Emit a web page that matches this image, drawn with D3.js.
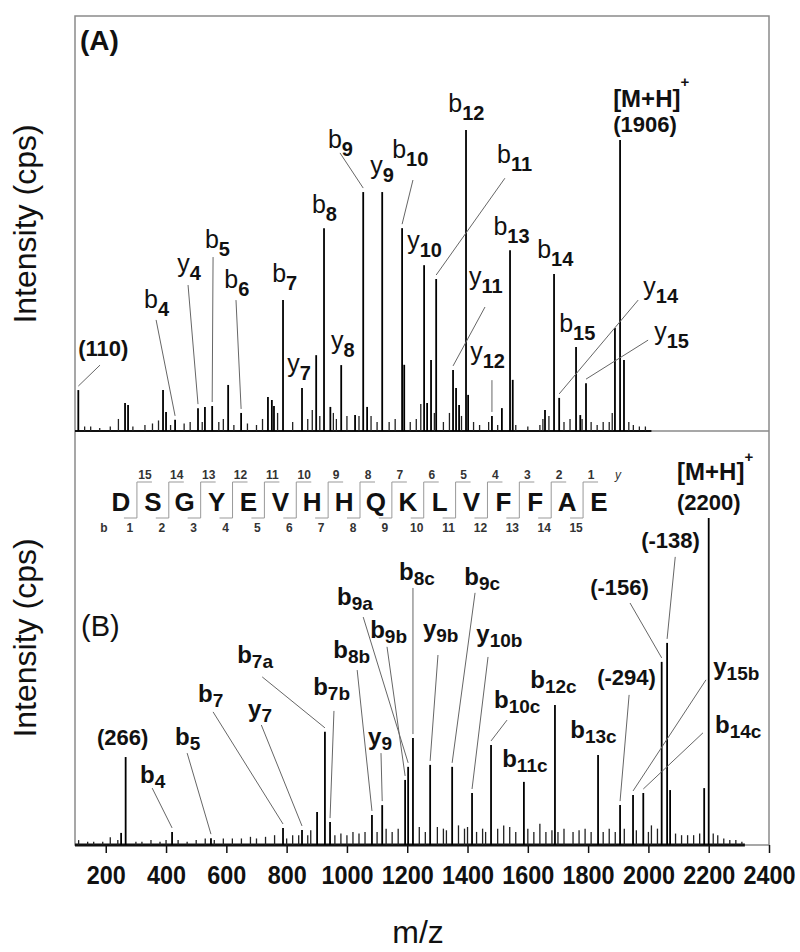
<!DOCTYPE html>
<html>
<head>
<meta charset="utf-8">
<script src="https://cdn.jsdelivr.net/npm/d3@7/dist/d3.min.js"></script>
<style>
  body { margin: 0; background: #fff; }
  text { font-family: "Liberation Sans", Arial, sans-serif; fill: #111; }
</style>
</head>
<body>
<div id="chart"></div>
<script>
// ---------- data ----------
// panel A : main peaks, m/z and relative intensity (% of b12)
var mzA  = [109, 264, 274, 390, 400, 430, 506, 529, 553, 606, 649, 738, 751, 758, 788, 851, 898, 924, 945, 981, 1027, 1054, 1067, 1117, 1183, 1190, 1256, 1266, 1279, 1296, 1352, 1362, 1372, 1395, 1402, 1481, 1514, 1541, 1550, 1657, 1687, 1704, 1760, 1774, 1793, 1889, 1906, 1919];
var intA = [13.6, 9.3, 8.6, 13.6, 6.3, 3.7, 7.6, 8.0, 8.3, 15.3, 6.0, 11.3, 10.3, 8.3, 43.5, 14.3, 25.2, 67.4, 8.0, 21.9, 5.3, 79.4, 8.0, 79.4, 67.4, 22, 55.1, 9.3, 23.6, 50.5, 20.3, 14.3, 8.6, 100, 12, 5, 7.6, 60.1, 17, 7, 52.2, 11, 27.9, 5.3, 15.9, 34.2, 96.7, 23.6];
// panel A : small background peaks
var noiseMzA  = [130, 150, 180, 215, 242, 290, 330, 355, 375, 415, 460, 480, 520, 575, 590, 625, 670, 700, 720, 770, 820, 870, 885, 910, 955, 965, 1000, 1040, 1080, 1100, 1140, 1160, 1210, 1230, 1245, 1290, 1320, 1340, 1380, 1420, 1440, 1470, 1500, 1560, 1600, 1640, 1650, 1670, 1720, 1740, 1780, 1810, 1830, 1850, 1870, 1880, 1935, 1950, 1970, 1990];
var noiseIntA = [1.5, 1.5, 1, 1.5, 4, 1.5, 2, 2.5, 3.5, 2, 2.5, 3, 3, 3, 4, 2, 2.5, 2, 4, 6, 3, 4, 7, 5, 6, 4, 5, 5, 5, 3, 3, 4, 3, 4, 9, 6, 3, 6, 5, 3, 2, 3, 2, 2, 1.5, 2, 4, 5, 3, 4, 4, 3, 2, 3, 3, 6, 3, 2, 1.5, 1.5];

// panel B : main peaks, m/z and relative intensity (% of 2200)
var mzB  = [251, 266, 420, 549, 788, 851, 901, 927, 944, 1083, 1117, 1193, 1203, 1219, 1276, 1349, 1415, 1478, 1587, 1690, 1833, 1906, 1949, 1983, 2044, 2062, 2072, 2185, 2200];
var intB = [3.7, 26.9, 4.0, 2.1, 5.2, 4.6, 10.1, 34.6, 7.0, 9.2, 12.2, 19.9, 23.9, 32.7, 24.5, 23.9, 15.9, 30.6, 19.3, 42.8, 27.5, 12.2, 15.3, 15.9, 56.0, 61.8, 16.8, 17.4, 100];
var noiseMzB  = [110, 140, 160, 190, 215, 240, 300, 320, 350, 380, 400, 440, 470, 500, 530, 560, 590, 620, 650, 680, 700, 730, 760, 800, 820, 840, 870, 880, 960, 980, 1000, 1020, 1040, 1060, 1100, 1130, 1150, 1170, 1240, 1260, 1300, 1320, 1330, 1370, 1390, 1400, 1430, 1450, 1460, 1500, 1520, 1540, 1560, 1600, 1620, 1640, 1660, 1680, 1700, 1720, 1750, 1770, 1790, 1810, 1850, 1870, 1890, 1920, 1960, 2000, 2010, 2030, 2090, 2110, 2130, 2150, 2170, 2215, 2230, 2250, 2270, 2290, 2310];
var noiseIntB = [1.5, 1, 1, 1, 2.4, 1.5, 1, 1, 1.5, 1, 1.5, 1.5, 1, 1.5, 2, 1.5, 2, 2, 2, 2.5, 2, 2.5, 3, 2, 3, 3, 3, 4.5, 3, 3.5, 3, 4, 3.5, 4, 4, 5, 4, 5, 5.5, 4, 5.5, 5, 4.5, 6, 5, 5.5, 4, 5, 4, 5, 6, 5.5, 4, 5, 4, 6.5, 4, 4.5, 4, 5, 4, 4.5, 5, 4, 4, 5, 4, 5, 4.5, 4, 6, 5, 3.5, 3, 3, 3, 3.5, 3.5, 3, 2, 1.5, 1.5, 1];

// peak annotations: [ion, subscript, peak m/z]
var ionsA = [
  ["(110)", "", 109], ["b", "4", 430], ["y", "4", 506], ["b", "5", 553], ["b", "6", 649],
  ["b", "7", 788], ["y", "7", 851], ["b", "8", 924], ["y", "8", 981], ["b", "9", 1054],
  ["y", "9", 1117], ["b", "10", 1183], ["y", "10", 1256], ["b", "11", 1296], ["b", "12", 1395],
  ["y", "11", 1352], ["y", "12", 1481], ["b", "13", 1541], ["b", "14", 1687], ["b", "15", 1760],
  ["y", "14", 1704], ["y", "15", 1793]
];
var ionsB = [
  ["(266)", "", 266], ["b", "4", 420], ["b", "5", 549], ["b", "7", 788], ["y", "7", 851],
  ["b", "7a", 927], ["b", "7b", 944], ["b", "8b", 1083], ["y", "9", 1117], ["b", "9a", 1203],
  ["b", "9b", 1193], ["b", "8c", 1219], ["y", "9b", 1276], ["b", "9c", 1349], ["y", "10b", 1415],
  ["b", "10c", 1478], ["b", "11c", 1587], ["b", "12c", 1690], ["b", "13c", 1833],
  ["(-294)", "", 1906], ["(-156)", "", 2044], ["(-138)", "", 2062], ["y", "15b", 1949], ["b", "14c", 1983]
];
var precursorA = 1906, precursorB = 2200;

// label anchors in data units: [label m/z, label intensity, leader start m/z, leader start intensity]
var placeA = [
  [108.5, 24.9, 181, 21.9], [327, 40.9, 367, 36.9], [437, 52.8, 473, 48.5], [529, 60.8, 556, 57.8], [593, 47.5, 632, 43.5],
  [752, 49.5], [802, 19.6], [884, 72.4], [947, 27.2], [937, 94, 977, 92.4],
  [1077, 85.4], [1150, 90.7, 1219, 83.4], [1200, 60.5], [1498, 89, 1524, 84], [1336, 106],
  [1405, 48.5, 1458, 41.2], [1409, 23.6, 1481, 16.9], [1486, 65.1], [1631, 57.5], [1704, 32.9],
  [1983, 45.2, 1966, 43.5], [2019, 30.2, 1999, 30.2]
];
var placeB = [
  [171, 30.6], [314, 19.0, 354, 17.4], [430, 30.6, 470, 28.1], [506, 43.7, 556, 40.7], [672, 39.1, 716, 36.7],
  [636, 55.7, 719, 51.4], [888, 45.9, 957, 41], [955, 57.2, 1034, 53.5], [1070, 30.6, 1113, 28.1], [967, 73.4, 1054, 69.7],
  [1077, 63.3, 1133, 60.6], [1173, 81.0, 1219, 78.6], [1252, 63.6, 1302, 58.1], [1389, 79.5, 1425, 77.1], [1429, 62.1, 1468, 57.5],
  [1488, 41.9, 1531, 38.2], [1515, 23.9], [1608, 48.0], [1741, 32.7],
  [1830, 48.9, 1936, 45.9], [1807, 76.5, 1939, 74], [1976, 90.8, 2089, 88.1], [2215, 52.0, 2191, 50.5], [2221, 34.3, 2181, 34.3]
];

var sequence = "DSGYEVHHQKLVFFAE".split("");
var ticks = [200, 400, 600, 800, 1000, 1200, 1400, 1600, 1800, 2000, 2200, 2400];

// ---------- layout ----------
var width = 800, height = 952;
var plotL = 75, plotR = 769, plotT = 16, plotM = 431, plotB = 845;

var x = d3.scaleLinear().domain([98, 2400]).range([plotL, plotR]);
var yA = d3.scaleLinear().domain([0, 137.9]).range([plotM, plotT]);
var yB = d3.scaleLinear().domain([0, 126.6]).range([plotB, plotM]);

var svg = d3.select("#chart").append("svg")
    .attr("width", width)
    .attr("height", height);

// frame
svg.append("rect")
    .attr("x", plotL).attr("y", plotT)
    .attr("width", plotR - plotL).attr("height", plotB - plotT)
    .attr("fill", "none").attr("stroke", "#8a8a8a").attr("stroke-width", 1.5);
svg.append("line")
    .attr("x1", plotL).attr("x2", plotR).attr("y1", plotM).attr("y2", plotM)
    .attr("stroke", "#8a8a8a").attr("stroke-width", 1.5);

function spectrum(mz, it, nmz, nit, y, end, base) {
    var g = svg.append("g");
    g.append("line")
        .attr("x1", x(98)).attr("x2", x(end))
        .attr("y1", y(0)).attr("y2", y(0))
        .attr("stroke", "#111").attr("stroke-width", base);
    g.selectAll("line.n")
        .data(d3.zip(nmz, nit))
        .join("line")
        .attr("class", "n")
        .attr("x1", d => x(d[0])).attr("x2", d => x(d[0]))
        .attr("y1", y(0)).attr("y2", d => y(d[1]))
        .attr("stroke", "#222").attr("stroke-width", 1.3);
    g.selectAll("line.p")
        .data(d3.zip(mz, it))
        .join("line")
        .attr("class", "p")
        .attr("x1", d => x(d[0])).attr("x2", d => x(d[0]))
        .attr("y1", y(0)).attr("y2", d => y(d[1]))
        .attr("stroke", "#000").attr("stroke-width", 1.8);
}
spectrum(mzA, intA, noiseMzA, noiseIntA, yA, 2010, 2.2);
spectrum(mzB, intB, noiseMzB, noiseIntB, yB, 2320, 3);

function labels(ions, place, mz, it, y, opt) {
    var g = svg.append("g");
    var rows = ions.map((d, i) => ({ ion: d, p: place[i], peak: it[mz.indexOf(d[2])] }));

    g.selectAll("line")
        .data(rows.filter(d => d.p.length > 2))
        .join("line")
        .attr("x1", d => x(d.p[2])).attr("y1", d => y(d.p[3]))
        .attr("x2", d => x(d.ion[2])).attr("y2", d => y(d.peak) - 4)
        .attr("stroke", "#666").attr("stroke-width", 1);

    var t = g.selectAll("text")
        .data(rows)
        .join("text")
        .attr("x", d => x(d.p[0])).attr("y", d => y(d.p[1]))
        .attr("font-weight", d => d.ion[1] ? opt.weight : "bold");
    t.append("tspan")
        .attr("font-size", d => d.ion[1] ? opt.size : opt.paren)
        .text(d => d.ion[0]);
    t.filter(d => d.ion[1]).append("tspan")
        .attr("font-size", opt.sub)
        .attr("font-weight", "bold")
        .attr("dy", opt.shift)
        .text(d => d.ion[1]);
}
labels(ionsA, placeA, mzA, intA, yA, { size: 25, sub: 20, shift: 8, paren: 22, weight: "normal" });
labels(ionsB, placeB, mzB, intB, yB, { size: 24, sub: 19, shift: 5, paren: 22, weight: "bold" });

// precursor labels
function precursor(mzv, lx, ly, ly2, y, sup) {
    var t = svg.append("text")
        .attr("x", x(lx)).attr("y", y(ly))
        .attr("font-weight", "bold").attr("font-size", 24);
    t.append("tspan").text("[M+H]");
    t.append("tspan").attr("font-size", 15).attr("dy", sup).text("+");
    svg.append("text")
        .attr("x", x(lx)).attr("y", y(ly2))
        .attr("font-weight", "bold").attr("font-size", 22)
        .text("(" + mzv + ")");
}
precursor(precursorA, 1883, 107.6, 99.3, yA, -20);
precursor(precursorB, 2095, 111.6, 102.4, yB, -18);

// panel tags
svg.append("text").attr("x", 80).attr("y", 50)
    .attr("font-size", 28).attr("font-weight", "bold").text("(A)");
svg.append("text").attr("x", 81).attr("y", 636)
    .attr("font-size", 29).text("(B)");

// peptide sequence with fragment brackets
var seqX = d3.scaleLinear().domain([0, sequence.length - 1]).range([121, 599]);
var seq = svg.append("g");
seq.selectAll("text.aa")
    .data(sequence)
    .join("text")
    .attr("class", "aa")
    .attr("x", (d, i) => seqX(i)).attr("y", 511)
    .attr("text-anchor", "middle")
    .attr("font-size", 26).attr("font-weight", "bold")
    .text(d => d);
var cuts = d3.range(sequence.length - 1);
seq.selectAll("path")
    .data(cuts)
    .join("path")
    .attr("d", i => {
        var c = (seqX(i) + seqX(i + 1)) / 2;
        return "M" + (c - 13) + ",518H" + c + "V482H" + (c + 15);
    })
    .attr("fill", "none").attr("stroke", "#999").attr("stroke-width", 1);
seq.selectAll("text.yn")
    .data(cuts)
    .join("text")
    .attr("class", "yn")
    .attr("x", i => (seqX(i) + seqX(i + 1)) / 2 + 8).attr("y", 479)
    .attr("text-anchor", "middle")
    .attr("font-family", "Liberation Serif, serif").attr("font-weight", "bold").attr("font-size", 12)
    .style("fill", "#333")
    .text(i => sequence.length - 1 - i);
seq.selectAll("text.bn")
    .data(cuts)
    .join("text")
    .attr("class", "bn")
    .attr("x", i => (seqX(i) + seqX(i + 1)) / 2 - 7).attr("y", 532)
    .attr("text-anchor", "middle")
    .attr("font-family", "Liberation Serif, serif").attr("font-weight", "bold").attr("font-size", 12)
    .style("fill", "#333")
    .text(i => i + 1);
seq.append("text").attr("x", 104).attr("y", 532).attr("text-anchor", "middle")
    .attr("font-family", "Liberation Serif, serif").attr("font-weight", "bold").attr("font-size", 12)
    .style("fill", "#333").text("b");
seq.append("text").attr("x", 618).attr("y", 479).attr("text-anchor", "middle")
    .attr("font-family", "Liberation Serif, serif").attr("font-style", "italic").attr("font-size", 12)
    .style("fill", "#333").text("y");

// x axis
var axis = svg.append("g")
    .attr("transform", "translate(0," + plotB + ")")
    .call(d3.axisBottom(x).tickValues(ticks).tickSize(8).tickPadding(13).tickFormat(d3.format("d")));
axis.select(".domain").remove();
axis.selectAll(".tick line").attr("stroke", "#111").attr("stroke-width", 1.5);
axis.selectAll(".tick text")
    .attr("font-family", "Liberation Sans, Arial, sans-serif")
    .attr("font-size", 26).attr("font-weight", "bold")
    .attr("textLength", d => String(d).length * 13)
    .attr("lengthAdjust", "spacingAndGlyphs")
    .style("fill", "#111");

// axis titles
svg.append("text")
    .attr("x", (plotL + plotR) / 2 - 4).attr("y", 943)
    .attr("text-anchor", "middle").attr("font-size", 32)
    .text("m/z");
[224, 638].forEach(function (cy) {
    svg.append("text")
        .attr("transform", "translate(36," + cy + ") rotate(-90)")
        .attr("text-anchor", "middle").attr("font-size", 32)
        .text("Intensity (cps)");
});
</script>
</body>
</html>
